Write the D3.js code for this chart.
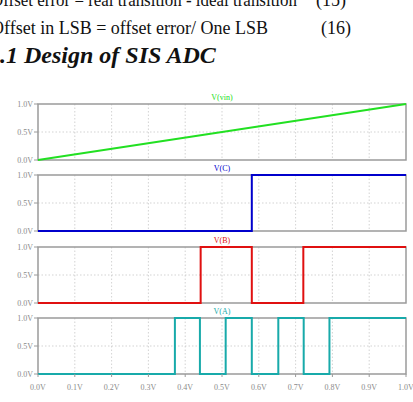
<!DOCTYPE html>
<html>
<head>
<meta charset="utf-8">
<script src="https://cdn.jsdelivr.net/npm/d3@7"></script>
<style>
  html, body { margin: 0; padding: 0; background: #fff; overflow: hidden; }
  svg { display: block; }
  .doc { font-family: "Liberation Serif", "Times New Roman", serif; fill: #111; }
  .tick-label { font-family: "Liberation Serif", serif; font-size: 8px; fill: #8a8a8a; }
  .frame { stroke: #9a9a9a; stroke-width: 1.5; fill: none; }
  .grid { stroke: #c8c8c8; stroke-width: 0.8; stroke-dasharray: 1.5 2; }
</style>
</head>
<body>
<div id="chart"></div>
<script>
// x axis: input voltage
const xTicks = [0, 0.1, 0.2, 0.3, 0.4, 0.5, 0.6, 0.7, 0.8, 0.9, 1.0];
const xTickLabels = ['0.0V', '0.1V', '0.2V', '0.3V', '0.4V', '0.5V', '0.6V', '0.7V', '0.8V', '0.9V', '1.0V'];
const yTicks = [0, 0.5, 1.0];
const yTickLabels = ['0.0V', '0.5V', '1.0V'];

// traces (x, value)
const vin = [[0, 0], [1.0, 1.0]];
const bitC = [[0, 0], [0.581, 1], [1.0, 1]];
const bitB = [[0, 0], [0.442, 1], [0.581, 0], [0.721, 1], [1.0, 1]];
const bitA = [[0, 0], [0.372, 1], [0.44, 0], [0.51, 1], [0.581, 0], [0.653, 1], [0.722, 0], [0.792, 1], [1.0, 1]];

const traceNames = ['V(vin)', 'V(C)', 'V(B)', 'V(A)'];
const traceData = [vin, bitC, bitB, bitA];
const traceColors = ['#22e022', '#0000cc', '#e01010', '#18aaaa'];
const traceCurves = [d3.curveLinear, d3.curveStepAfter, d3.curveStepAfter, d3.curveStepAfter];

const W = 413, H = 402;
const svg = d3.select('#chart').append('svg').attr('width', W).attr('height', H);

// text from the surrounding page (cropped like the scan)
svg.append('text').attr('class', 'doc').attr('x', -9).attr('y', 6).attr('font-size', 18)
  .attr('textLength', 306).attr('lengthAdjust', 'spacingAndGlyphs')
  .text('Offset error = real transition - ideal transition');
svg.append('text').attr('class', 'doc').attr('x', 316).attr('y', 6).attr('font-size', 18).text('(15)');
svg.append('text').attr('class', 'doc').attr('x', -9).attr('y', 34).attr('font-size', 18)
  .text('Offset in LSB = offset error/ One LSB');
svg.append('text').attr('class', 'doc').attr('x', 321).attr('y', 34).attr('font-size', 18).text('(16)');
svg.append('text').attr('class', 'doc').attr('x', -12).attr('y', 63).attr('font-size', 24)
  .attr('font-weight', 'bold').attr('font-style', 'italic').text('4.1 Design of SIS ADC');

const left = 38, right = 406;
const x = d3.scaleLinear().domain([0, 1]).range([left, right]);
const panelTops = [104, 175, 247, 318];
const panelH = 56;

traceData.forEach((data, i) => {
  const top = panelTops[i], bottom = top + panelH;
  const y = d3.scaleLinear().domain([0, 1]).range([bottom, top]);
  const g = svg.append('g');

  // grid
  g.selectAll('.vgrid').data(xTicks.slice(1, -1)).enter().append('line')
    .attr('class', 'grid')
    .attr('x1', d => x(d)).attr('x2', d => x(d))
    .attr('y1', top).attr('y2', bottom);
  g.append('line').attr('class', 'grid')
    .attr('x1', left).attr('x2', right)
    .attr('y1', y(0.5)).attr('y2', y(0.5));

  // frame
  g.append('rect').attr('class', 'frame')
    .attr('x', left).attr('y', top).attr('width', right - left).attr('height', panelH);

  // y axis ticks and labels
  g.selectAll('.ytick').data(yTicks).enter().append('line')
    .attr('x1', left - 4).attr('x2', left)
    .attr('y1', d => y(d)).attr('y2', d => y(d))
    .attr('stroke', '#9a9a9a').attr('stroke-width', 1);
  g.selectAll('.ylab').data(yTicks).enter().append('text')
    .attr('class', 'tick-label')
    .attr('x', left - 5).attr('y', d => y(d) + 3)
    .attr('text-anchor', 'end')
    .text((d, j) => yTickLabels[j]);

  // trace
  const line = d3.line().x(d => x(d[0])).y(d => y(d[1])).curve(traceCurves[i]);
  g.append('path').datum(data)
    .attr('d', line)
    .attr('fill', 'none')
    .attr('stroke', traceColors[i])
    .attr('stroke-width', 2);

  // trace name
  g.append('text')
    .attr('x', 222).attr('y', top - 4)
    .attr('text-anchor', 'middle')
    .attr('font-family', 'Liberation Serif, serif')
    .attr('font-size', 8)
    .attr('fill', traceColors[i])
    .text(traceNames[i]);
});

// x axis ticks and labels under the last panel
const lastBottom = panelTops[3] + panelH;
svg.selectAll('.xtick').data(xTicks).enter().append('line')
  .attr('x1', d => x(d)).attr('x2', d => x(d))
  .attr('y1', lastBottom).attr('y2', lastBottom + 3)
  .attr('stroke', '#9a9a9a');
svg.selectAll('.xlab').data(xTicks).enter().append('text')
  .attr('class', 'tick-label')
  .attr('x', d => x(d)).attr('y', lastBottom + 16)
  .attr('text-anchor', 'middle')
  .text((d, i) => xTickLabels[i]);
</script>
</body>
</html>
